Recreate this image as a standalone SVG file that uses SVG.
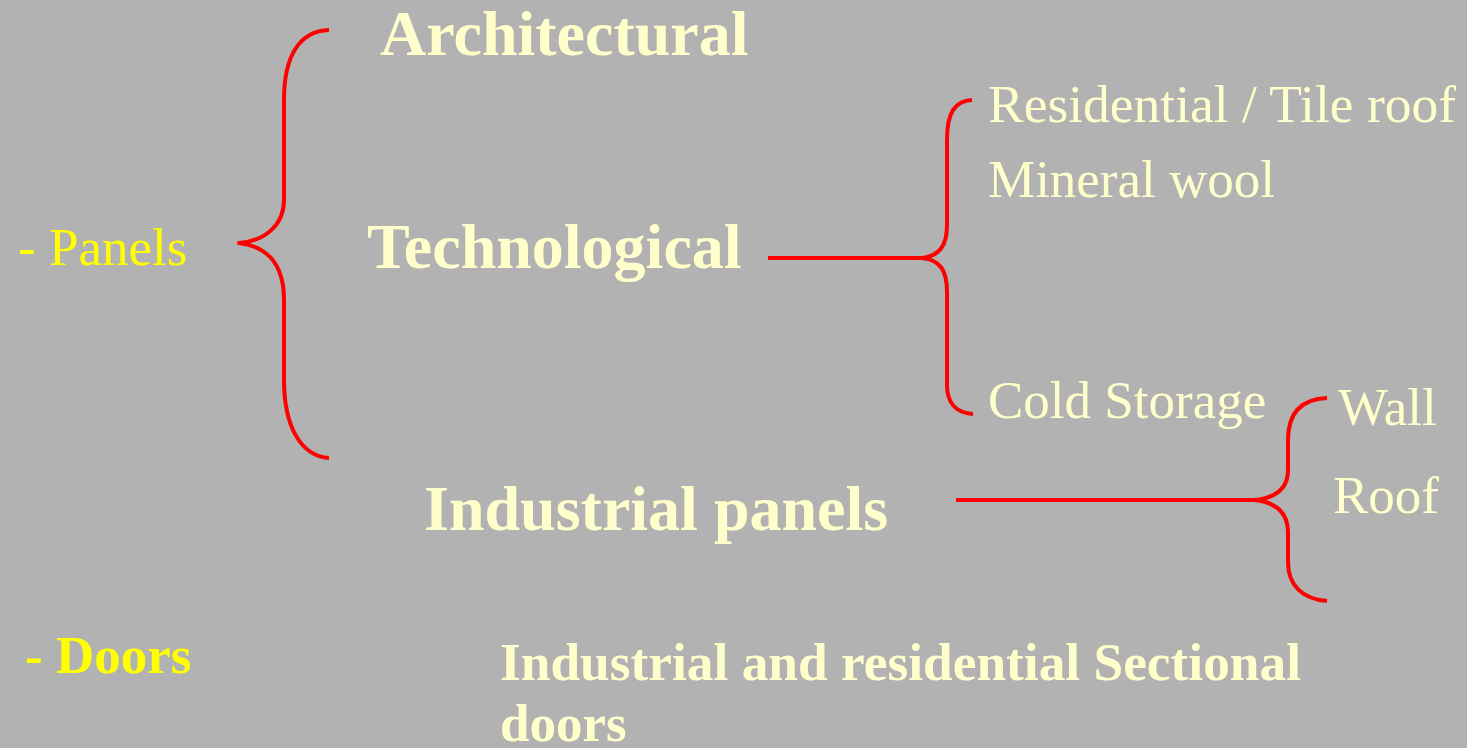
<svg xmlns="http://www.w3.org/2000/svg" width="1467" height="748" viewBox="0 0 1467 748">
<style>
text{font-family:'Liberation Serif','DejaVu Serif',serif;fill:#FFFFCC}
.b{font-weight:bold;font-size:64px}
.r{font-size:53px}
.y{fill:#FFFF00}
.br{fill:none;stroke:#FF0000;stroke-width:4;stroke-linecap:butt;stroke-linejoin:round}
</style>
<rect width="1467" height="748" fill="#B2B2B2"/>
<g id="connectors">
<path class="br" d="M329,30 C300,31 284,55 284,100 L284,200 C284,225 265,241 239,243 C265,246 284,262 284,300 L284,380 C284,425 300,456 329,458"/>
<path class="br" d="M768,258 L925,258"/>
<path class="br" d="M972,100 C955,101 947,112 947,140 L947,225 C947,245 940,256 922,258 C940,260 947,270 947,292 L947,385 C947,402 955,413 973,414"/>
<path class="br" d="M956,500 L1254,500"/>
<path class="br" d="M1327,398 C1302,399 1288,412 1288,440 L1288,470 C1288,488 1276,498 1254,500 C1276,502 1288,512 1288,533 L1288,562 C1288,585 1302,599 1327,601"/>
</g>
<g id="panels"><text class="y r" x="18" y="265" font-family="Liberation Serif" font-size="52">- Panels</text></g>
<g id="architectural"><text class="b" x="380" y="55" font-family="Liberation Serif">Architectural</text></g>
<g id="technological"><text class="b" x="367" y="268" font-family="Liberation Serif" font-size="63">Technological</text></g>
<g id="industrial-panels"><text class="b" x="424" y="530" font-family="Liberation Serif">Industrial panels</text></g>
<g id="residential"><text class="r" x="988" y="122" font-family="Liberation Serif" textLength="468" lengthAdjust="spacingAndGlyphs">Residential / Tile roof</text></g>
<g id="mineral-wool"><text class="r" x="988" y="197" font-family="Liberation Serif">Mineral wool</text></g>
<g id="cold-storage"><text class="r" x="988" y="418" font-family="Liberation Serif">Cold Storage</text></g>
<g id="wall"><text class="r" x="1338" y="425" font-family="Liberation Serif">Wall</text></g>
<g id="roof"><text class="r" x="1333" y="513" font-family="Liberation Serif">Roof</text></g>
<g id="doors"><text class="y" x="25" y="673" font-family="Liberation Serif" font-weight="bold" font-size="53">- Doors</text></g>
<g id="sectional-doors"><text font-family="Liberation Serif" font-weight="bold" font-size="53"><tspan x="500" y="680" textLength="801" lengthAdjust="spacingAndGlyphs">Industrial and residential Sectional</tspan><tspan x="500" y="741">doors</tspan></text></g>
</svg>
